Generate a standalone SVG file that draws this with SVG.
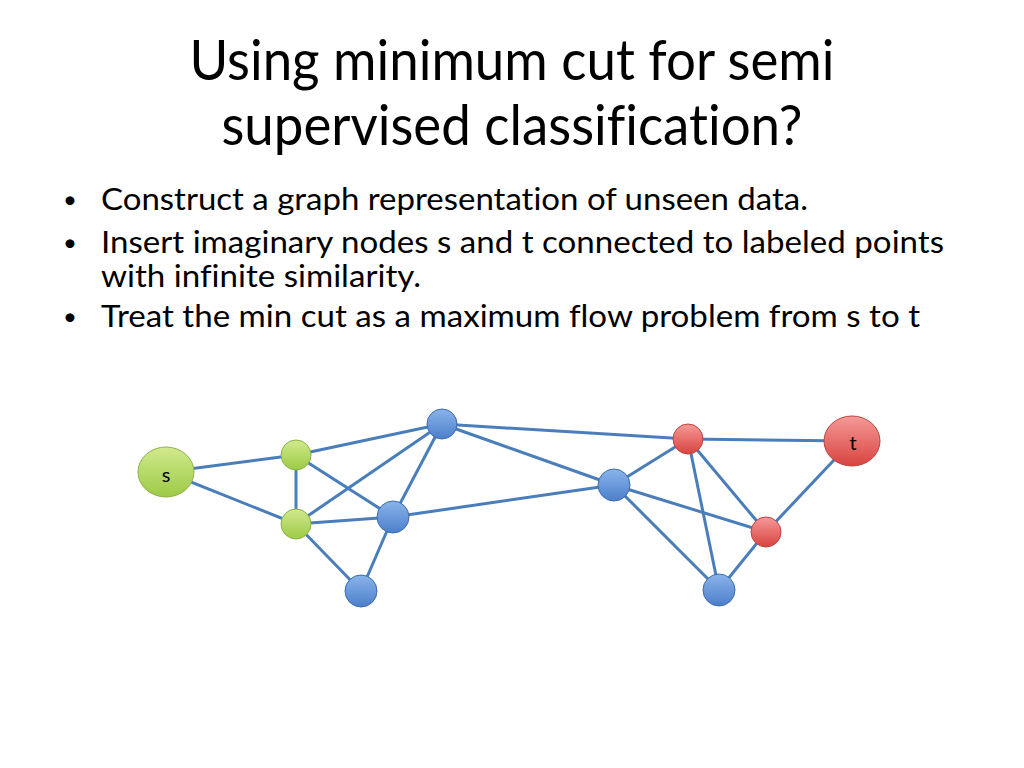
<svg xmlns="http://www.w3.org/2000/svg" width="1024" height="768" viewBox="0 0 1024 768">
<defs>
<linearGradient id="gGreen" x1="0" y1="0" x2="0" y2="1">
<stop offset="0" stop-color="#d2ea8e"/><stop offset="1" stop-color="#9cca45"/>
</linearGradient>
<linearGradient id="gBlue" x1="0" y1="0" x2="0" y2="1">
<stop offset="0" stop-color="#8ab4ea"/><stop offset="1" stop-color="#4c7fcb"/>
</linearGradient>
<linearGradient id="gRed" x1="0" y1="0" x2="0" y2="1">
<stop offset="0" stop-color="#f49a98"/><stop offset="1" stop-color="#d9433f"/>
</linearGradient>
</defs>
<style>
text{font-variant-ligatures:none;font-feature-settings:"liga" 0,"clig" 0}
.title{font-family:Lato,"Open Sans","Liberation Sans",sans-serif;font-size:56px;fill:#000;text-anchor:middle}
.body{font-family:Lato,"Open Sans","Liberation Sans",sans-serif;font-size:30px;fill:#000}
.bul{font-size:24px}
.edge{stroke:#4a7ebb;stroke-width:3;fill:none}
.green{fill:url(#gGreen);stroke:#8cb04a;stroke-width:1}
.blue{fill:url(#gBlue);stroke:#3d6cae;stroke-width:1}
.red{fill:url(#gRed);stroke:#b84440;stroke-width:1}
.lbl{font-family:Lato,"Open Sans","Liberation Sans",sans-serif;font-size:20px;fill:#000;text-anchor:middle}
</style>
<rect width="1024" height="768" fill="#fff"/>
<text class="title" x="512" y="80" textLength="645" lengthAdjust="spacingAndGlyphs">Using minimum cut for semi</text>
<text class="title" x="512" y="145" textLength="581" lengthAdjust="spacingAndGlyphs">supervised classification?</text>
<g class="body">
<text class="bul" x="63" y="208">•</text>
<text x="101" y="210" textLength="707" lengthAdjust="spacingAndGlyphs">Construct a graph representation of unseen data.</text>
<text class="bul" x="63" y="251">•</text>
<text x="101" y="253" textLength="843" lengthAdjust="spacingAndGlyphs">Insert imaginary nodes s and t connected to labeled points</text>
<text x="101" y="287" textLength="320" lengthAdjust="spacingAndGlyphs">with infinite similarity.</text>
<text class="bul" x="63" y="325">•</text>
<text x="101" y="327" textLength="819" lengthAdjust="spacingAndGlyphs">Treat the min cut as a maximum flow problem from s to t</text>
</g>
<g id="connectors">
<line class="edge" x1="166" y1="472" x2="296" y2="455"/>
<line class="edge" x1="166" y1="472" x2="296" y2="524"/>
<line class="edge" x1="296" y1="455" x2="296" y2="524"/>
<line class="edge" x1="296" y1="455" x2="442" y2="424"/>
<line class="edge" x1="296" y1="455" x2="393" y2="517"/>
<line class="edge" x1="296" y1="524" x2="442" y2="424"/>
<line class="edge" x1="296" y1="524" x2="393" y2="517"/>
<line class="edge" x1="296" y1="524" x2="361" y2="591"/>
<line class="edge" x1="393" y1="517" x2="442" y2="424"/>
<line class="edge" x1="393" y1="517" x2="361" y2="591"/>
<line class="edge" x1="393" y1="517" x2="614" y2="485"/>
<line class="edge" x1="442" y1="424" x2="688" y2="439"/>
<line class="edge" x1="442" y1="424" x2="614" y2="485"/>
<line class="edge" x1="614" y1="485" x2="688" y2="439"/>
<line class="edge" x1="614" y1="485" x2="766" y2="532"/>
<line class="edge" x1="614" y1="485" x2="719" y2="590"/>
<line class="edge" x1="688" y1="439" x2="852" y2="441"/>
<line class="edge" x1="688" y1="439" x2="766" y2="532"/>
<line class="edge" x1="688" y1="439" x2="719" y2="590"/>
<line class="edge" x1="766" y1="532" x2="852" y2="441"/>
<line class="edge" x1="766" y1="532" x2="719" y2="590"/>
</g>
<g id="node-s"><ellipse class="green" cx="166" cy="472" rx="28" ry="25"/><text class="lbl" x="166" y="482">s</text></g>
<g id="node-g1"><circle class="green" cx="296" cy="455" r="15"/></g>
<g id="node-g2"><circle class="green" cx="296" cy="524" r="15"/></g>
<g id="node-b1"><circle class="blue" cx="442" cy="424" r="15"/></g>
<g id="node-b2"><circle class="blue" cx="393" cy="517" r="16"/></g>
<g id="node-b3"><circle class="blue" cx="361" cy="591" r="16"/></g>
<g id="node-b4"><circle class="blue" cx="614" cy="485" r="16"/></g>
<g id="node-b5"><circle class="blue" cx="719" cy="590" r="16"/></g>
<g id="node-r1"><circle class="red" cx="688" cy="439" r="15"/></g>
<g id="node-r2"><circle class="red" cx="766" cy="532" r="15"/></g>
<g id="node-t"><ellipse class="red" cx="852" cy="441" rx="28" ry="25"/><text class="lbl" x="853" y="450">t</text></g>
</svg>
